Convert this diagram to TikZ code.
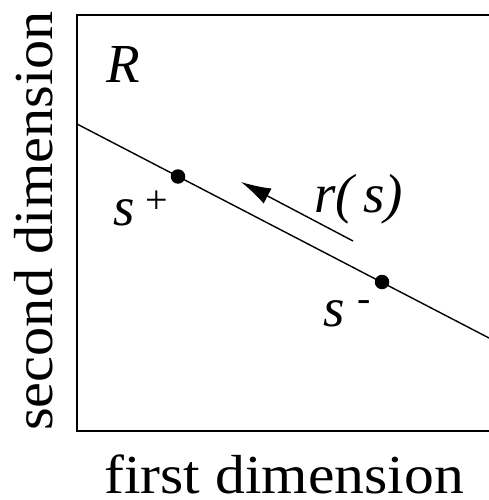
\documentclass[tikz,border=0pt]{standalone}
\usepackage{fontspec}
\setmainfont{Liberation Serif}
\usetikzlibrary{arrows.meta}
\begin{document}
\begin{tikzpicture}[x=1pt,y=-1pt,
  lbl/.style={inner sep=0pt,font=\fontsize{55}{60}\selectfont},
  ilbl/.style={inner sep=0pt,font=\fontsize{55}{60}\selectfont\itshape},
  sup/.style={inner sep=0pt,font=\fontsize{40}{44}\selectfont},
  dotnode/.style={circle,fill=black,inner sep=0pt,minimum size=14.5pt},
  thin line/.style={line width=1.4pt}]
\useasboundingbox (0,0) rectangle (489,500);
\clip (0,0) rectangle (489,500);
% frame
\coordinate (tr) at (495,15);
\coordinate (tl) at (77,15);
\coordinate (bl) at (77,431);
\coordinate (br) at (495,431);
\draw[thin line] (tr) -- (tl) -- (bl) -- (br);
% line
\coordinate (ls) at (77,124);
\coordinate (le) at (489,338);
\draw[thin line] (ls) -- (le);
\node[dotnode] (sp) at (178,176.5) {};
\node[dotnode] (sm) at (382,282) {};
% arrow
\coordinate (at) at (353,241);
\coordinate (ah) at (241,182);
\draw[thin line,-{Latex[length=30pt,width=17pt]}] (at) -- (ah);
% labels
\node[ilbl,anchor=base west] (R) at (106,83) {R};
\node[ilbl,anchor=base west] (rs) at (314,212) {r(\,s)};
\node[ilbl,anchor=base west] (splab) at (113,225) {s};
\node[sup] (plus) at (157,202) {+};
\node[ilbl,anchor=base west] (smlab) at (323,326) {s};
\node[sup] (minus) at (364,306) {-};
\node[lbl,anchor=base,text depth=0pt] (xl) at (284,493) {\scalebox{1.085}[1]{first dimension}};
\node[lbl,anchor=base,rotate=90] (yl) at (52,221) {\scalebox{1.06}[1]{second dimension}};
\end{tikzpicture}
\end{document}
